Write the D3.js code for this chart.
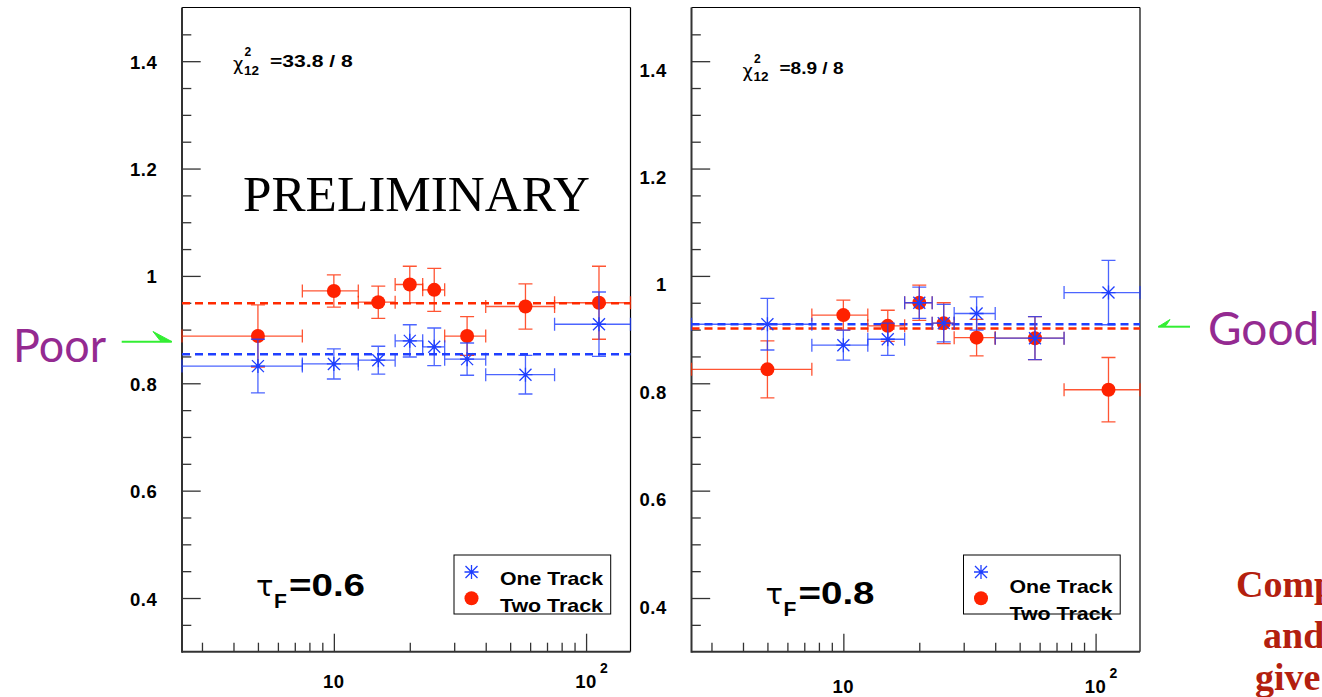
<!DOCTYPE html>
<html>
<head>
<meta charset="utf-8">
<script src="https://cdn.jsdelivr.net/npm/d3@7"></script>
<style>
  body { margin: 0; background: #fff; }
  svg { display: block; }
</style>
</head>
<body>
<script>
// bins, same for both panels
var binCenter = [5, 10, 15, 20, 25, 33.75, 57.5, 112.5];
var binLow    = [2.5, 7.5, 12.5, 17.5, 22.5, 27.5, 40, 75];
var binHigh   = [7.5, 12.5, 17.5, 22.5, 27.5, 40, 75, 150];

// tau_F = 0.6
var oneTrack06 = [0.832, 0.836, 0.843, 0.879, 0.868, 0.845, 0.816, 0.910];
var oneErr06   = [0.050, 0.028, 0.026, 0.030, 0.035, 0.030, 0.036, 0.060];
var twoTrack06 = [0.888, 0.972, 0.951, 0.984, 0.974, 0.888, 0.943, 0.950];
var twoErr06   = [0.058, 0.030, 0.030, 0.034, 0.040, 0.036, 0.042, 0.068];
var fitOne06 = 0.854, fitTwo06 = 0.949;

// tau_F = 0.8
var oneTrack08 = [0.910, 0.871, 0.882, 0.950, 0.912, 0.930, 0.884, 0.969];
var oneErr08   = [0.048, 0.028, 0.030, 0.029, 0.035, 0.031, 0.040, 0.060];
var twoTrack08 = [0.826, 0.927, 0.907, 0.950, 0.912, 0.885, 0.884, 0.788];
var twoErr08   = [0.053, 0.028, 0.029, 0.033, 0.038, 0.034, 0.040, 0.060];
var fitOne08 = 0.910, fitTwo08 = 0.902;

// axes
var yMajor = [0.4, 0.6, 0.8, 1.0, 1.2, 1.4];
var yLabels = ["0.4", "0.6", "0.8", "1", "1.2", "1.4"];
var yMinor = [0.35, 0.45, 0.5, 0.55, 0.65, 0.7, 0.75, 0.85, 0.9, 0.95, 1.05, 1.1, 1.15, 1.25, 1.3, 1.35, 1.45];
var xMajor = [10, 100];
var xLabelBase = ["10", "10"];
var xLabelExp = ["", "2"];
var xMinor = [3, 4, 5, 6, 7, 8, 9, 20, 30, 40, 50, 60, 70, 80, 90];

var legendNames = ["One Track", "Two Track"];

var RED = "#ff2a00", BLUE = "#1f3fff";
var SANS = "'Liberation Sans', Arial, Helvetica, sans-serif";

var w = 1322, h = 697;
var pw = 448.5;
var top0 = 7.5, bot0 = 651.7;

var svg = d3.select("body").append("svg")
  .attr("width", w)
  .attr("height", h);

svg.append("rect").attr("width", w).attr("height", h).attr("fill", "#fff");

function rows(vals, errs) {
  return binCenter.map(function (c, i) {
    return { x: c, lo: binLow[i], hi: binHigh[i], v: vals[i], e: errs[i] };
  });
}

function drawPanel(p) {
  var g = svg.append("g").attr("transform", "translate(" + p.left + ",0)");

  var x = d3.scaleLog().domain([2.5, 150]).range([0, pw]);
  var y = d3.scaleLinear().domain([0.3, 1.5]).range([bot0, top0]);

  // y ticks
  var yMin = g.append("g").call(d3.axisLeft(y).tickValues(yMinor).tickSize(-9.3).tickFormat(""));
  var yMaj = g.append("g").call(d3.axisLeft(y).tickValues(yMajor).tickSize(-18.7).tickPadding(24.5)
    .tickFormat(function (d, i) { return yLabels[i]; }));
  var xMin = g.append("g").attr("transform", "translate(0," + bot0 + ")")
    .call(d3.axisBottom(x).tickValues(xMinor).tickSize(-9).tickFormat(""));
  var xMaj = g.append("g").attr("transform", "translate(0," + bot0 + ")")
    .call(d3.axisBottom(x).tickValues(xMajor).tickSize(-18).tickFormat(""));

  [yMin, yMaj, xMin, xMaj].forEach(function (a) {
    a.select(".domain").remove();
    a.selectAll(".tick line").attr("stroke", "#333").attr("stroke-width", 1.3);
  });
  yMaj.selectAll("text")
    .attr("dy", null)
    .attr("y", 7 + p.shift)
    .attr("fill", "#000")
    .style("font-family", SANS)
    .style("font-weight", "bold")
    .style("font-size", "18.5px")
    .style("letter-spacing", "0.6px");

  // x labels with exponent
  xMajor.forEach(function (v, i) {
    g.append("text")
      .attr("x", x(v))
      .attr("y", 688 + p.shift * 0.6)
      .attr("text-anchor", "middle")
      .attr("font-family", SANS)
      .attr("font-weight", "bold")
      .attr("font-size", 18.5)
      .attr("letter-spacing", 0.6)
      .text(xLabelBase[i]);
    if (xLabelExp[i]) {
      g.append("text")
        .attr("x", x(v) + 14)
        .attr("y", 673 + p.shift * 0.6)
        .attr("font-family", SANS)
        .attr("font-weight", "bold")
        .attr("font-size", 14)
        .text(xLabelExp[i]);
    }
  });

  // frame
  g.append("line").attr("x1", 0).attr("x2", pw).attr("y1", top0).attr("y2", top0)
    .attr("stroke", "#000").attr("stroke-width", 1);
  g.append("line").attr("x1", pw).attr("x2", pw).attr("y1", top0).attr("y2", bot0)
    .attr("stroke", "#000").attr("stroke-width", 1.2);
  g.append("line").attr("x1", 0).attr("x2", 0).attr("y1", top0).attr("y2", bot0 + 1)
    .attr("stroke", "#333").attr("stroke-width", 2);
  g.append("line").attr("x1", 0).attr("x2", pw).attr("y1", bot0).attr("y2", bot0)
    .attr("stroke", "#333").attr("stroke-width", 2);

  // fit lines
  [[p.fitTwo, RED], [p.fitOne, BLUE]].forEach(function (f) {
    g.append("line")
      .attr("x1", 0).attr("x2", pw)
      .attr("y1", y(f[0])).attr("y2", y(f[0]))
      .attr("stroke", f[1])
      .attr("stroke-width", 2.5)
      .attr("stroke-dasharray", "8,5");
  });

  function errorBars(data, color) {
    var eg = g.append("g")
      .attr("stroke", color)
      .attr("stroke-width", 1.3)
      .attr("stroke-opacity", 0.8)
      .attr("fill", "none");
    eg.selectAll("path")
      .data(data)
      .enter()
      .append("path")
      .attr("d", function (d) {
        var cx = x(d.x), cy = y(d.v);
        var x1 = x(d.lo), x2 = x(d.hi);
        var y1 = y(d.v + d.e), y2 = y(d.v - d.e);
        return "M" + x1 + "," + cy + "H" + x2 +
          "M" + x1 + "," + (cy - 6.5) + "V" + (cy + 6.5) +
          "M" + x2 + "," + (cy - 6.5) + "V" + (cy + 6.5) +
          "M" + cx + "," + y1 + "V" + y2 +
          "M" + (cx - 7) + "," + y1 + "H" + (cx + 7) +
          "M" + (cx - 7) + "," + y2 + "H" + (cx + 7);
      });
  }

  var two = rows(p.two, p.twoErr);
  var one = rows(p.one, p.oneErr);

  errorBars(two, RED);
  g.selectAll("circle.two")
    .data(two)
    .enter()
    .append("circle")
    .attr("class", "two")
    .attr("cx", function (d) { return x(d.x); })
    .attr("cy", function (d) { return y(d.v); })
    .attr("r", 7)
    .attr("fill", "#ff2200");

  errorBars(one, BLUE);
  g.selectAll("path.one")
    .data(one)
    .enter()
    .append("path")
    .attr("class", "one")
    .attr("transform", function (d) { return "translate(" + x(d.x) + "," + y(d.v) + ")"; })
    .attr("d", "M-7,0H7M0,-7V7M-6,-6L6,6M-6,6L6,-6")
    .attr("stroke", BLUE)
    .attr("stroke-width", 1.3)
    .attr("fill", "none");
  g.selectAll("circle.onedot")
    .data(one)
    .enter()
    .append("circle")
    .attr("cx", function (d) { return x(d.x); })
    .attr("cy", function (d) { return y(d.v); })
    .attr("r", 1.8)
    .attr("fill", BLUE);

  // chi2 label
  var cs = p.shift * 0.85;
  g.append("text").attr("x", 51).attr("y", 70 + cs)
    .attr("font-family", "'DejaVu Sans', sans-serif").attr("font-size", 18).text("χ");
  g.append("text").attr("x", 62.5).attr("y", 56 + cs)
    .attr("font-family", SANS).attr("font-weight", "bold").attr("font-size", 12).text("2");
  g.append("text").attr("x", 62).attr("y", 74.5 + cs)
    .attr("font-family", SANS).attr("font-weight", "bold").attr("font-size", 13.5).text("12");
  g.append("text").attr("x", 88).attr("y", 66.7 + cs)
    .attr("font-family", SANS).attr("font-weight", "bold").attr("font-size", 17)
    .attr("textLength", p.chiLen).attr("lengthAdjust", "spacingAndGlyphs")
    .text(p.chiText);

  // tau_F label
  g.append("text").attr("x", 74).attr("y", 596 + p.shift)
    .attr("font-family", "'DejaVu Sans', sans-serif")
    .attr("font-size", 29).text("τ");
  g.append("text").attr("x", 92).attr("y", 608 + p.shift)
    .attr("font-family", SANS).attr("font-weight", "bold").attr("font-size", 21).text("F");
  g.append("text").attr("x", 107).attr("y", 596 + p.shift)
    .attr("font-family", SANS).attr("font-weight", "bold").attr("font-size", 31)
    .attr("textLength", 76).attr("lengthAdjust", "spacingAndGlyphs")
    .text(p.tauText);

  // legend
  g.append("rect")
    .attr("x", 272).attr("y", 555)
    .attr("width", 156.7).attr("height", 59)
    .attr("fill", "#fff")
    .attr("stroke", "#000")
    .attr("stroke-width", 1);
  g.append("path")
    .attr("transform", "translate(289.5,572)")
    .attr("d", "M-7,0H7M0,-7V7M-6,-6L6,6M-6,6L6,-6")
    .attr("stroke", BLUE).attr("stroke-width", 1.3);
  g.append("circle").attr("cx", 289.5).attr("cy", 598.3).attr("r", 7).attr("fill", "#ff2200");
  legendNames.forEach(function (n, i) {
    g.append("text")
      .attr("x", 318)
      .attr("y", 585 + i * 26.7 + p.shift)
      .attr("font-family", SANS)
      .attr("font-weight", "bold")
      .attr("font-size", 18.5)
      .attr("textLength", 103)
      .attr("lengthAdjust", "spacingAndGlyphs")
      .text(n);
  });

  return g;
}

var left = drawPanel({
  left: 182, shift: 0,
  one: oneTrack06, oneErr: oneErr06, two: twoTrack06, twoErr: twoErr06,
  fitOne: fitOne06, fitTwo: fitTwo06,
  chiText: "=33.8 / 8", chiLen: 82.7, tauText: "=0.6"
});

var right = drawPanel({
  left: 691.5, shift: 8,
  one: oneTrack08, oneErr: oneErr08, two: twoTrack08, twoErr: twoErr08,
  fitOne: fitOne08, fitTwo: fitTwo08,
  chiText: "=8.9 / 8", chiLen: 64, tauText: "=0.8"
});

left.append("text")
  .attr("x", 61).attr("y", 211)
  .attr("font-family", "'Liberation Serif', 'Times New Roman', serif")
  .attr("font-size", 50)
  .attr("textLength", 347)
  .attr("lengthAdjust", "spacingAndGlyphs")
  .text("PRELIMINARY");

// side annotations
var PURPLE = "#942a91", GREEN = "#33ee33";
svg.append("text").attr("x", 13).attr("y", 361.7)
  .attr("font-family", "Lato, 'Open Sans', sans-serif").attr("font-size", 46)
  .attr("fill", PURPLE).attr("textLength", 93).attr("lengthAdjust", "spacingAndGlyphs")
  .text("Poor");
svg.append("line").attr("x1", 121.7).attr("x2", 171.7).attr("y1", 341.7).attr("y2", 341.7)
  .attr("stroke", GREEN).attr("stroke-width", 2);
svg.append("path").attr("d", "M153,331.5L172,341.7L160,340.5Z")
  .attr("fill", GREEN).attr("stroke", GREEN).attr("stroke-width", 1);

svg.append("text").attr("x", 1208).attr("y", 345)
  .attr("font-family", "Lato, 'Open Sans', sans-serif").attr("font-size", 46)
  .attr("fill", PURPLE).text("Good");
svg.append("line").attr("x1", 1158.3).attr("x2", 1190).attr("y1", 326.7).attr("y2", 326.7)
  .attr("stroke", GREEN).attr("stroke-width", 2);
svg.append("path").attr("d", "M1158.3,326.7L1170,319.5L1166,325.5Z")
  .attr("fill", GREEN).attr("stroke", GREEN).attr("stroke-width", 1);

// right-edge note, cut by the page edge as in the source
var noteLines = ["Comp", "and", "give"];
var noteX = [1236, 1263, 1255];
var noteY = [597, 648, 690];
noteLines.forEach(function (s, i) {
  svg.append("text")
    .attr("x", noteX[i]).attr("y", noteY[i])
    .attr("font-family", "'Liberation Serif', 'Times New Roman', serif")
    .attr("font-weight", "bold")
    .attr("font-size", 38)
    .attr("fill", "#b3200f")
    .text(s);
});
</script>
</body>
</html>
